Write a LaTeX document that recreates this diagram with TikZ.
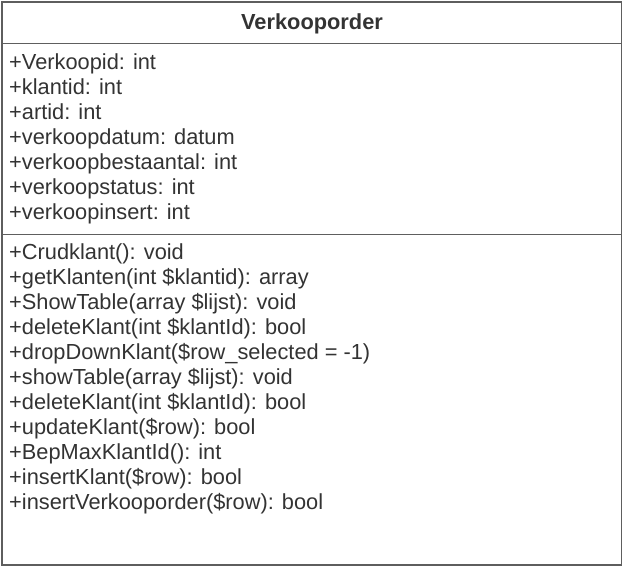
\documentclass[tikz,border=0pt]{standalone}
\usepackage{fontspec}
\setmainfont{Liberation Sans}
\usepackage{xcolor}
\definecolor{umlline}{HTML}{5E5E5E}
\definecolor{umltext}{HTML}{333333}
\tikzset{
	umlbox/.style={draw=umlline, line width=1.8pt},
	umltitle/.style={anchor=base, inner sep=0pt, text=umltext, font=\fontsize{21.8}{25}\selectfont\bfseries},
	umlmember/.style={anchor=base west, inner sep=0pt, text=umltext, font=\fontsize{21.8}{25}\selectfont}
}

\begin{document}
\begin{tikzpicture}[x=1pt,y=-1pt]
	\useasboundingbox (0,0) rectangle (623,569);
	
	% class box and compartments
	\draw[umlbox] (2,2) rectangle (621.5,565);
	\draw[umlbox] (2,43.5) -- (621.5,43.5);
	\draw[umlbox] (2,234.5) -- (621.5,234.5);
	
	\node[umltitle] (classname) at (312,30) {Verkooporder};
	
	% attributes
	\node[umlmember] (verkoopid) at (9,70) {+Verkoopid: int};
	\node[umlmember] (klantid) at (9,95) {+klantid: int};
	\node[umlmember] (artid) at (9,120) {+artid: int};
	\node[umlmember] (verkoopdatum) at (9,145) {+verkoopdatum: datum};
	\node[umlmember] (verkoopbestaantal) at (9,170) {+verkoopbestaantal: int};
	\node[umlmember] (verkoopstatus) at (9,195) {+verkoopstatus: int};
	\node[umlmember] (verkoopinsert) at (9,220) {+verkoopinsert: int};
	
	% methods
	\node[umlmember] (crudklant) at (9,259) {+Crudklant(): void};
	\node[umlmember] (getklanten) at (9,284) {+getKlanten(int \$klantid): array};
	\node[umlmember] (showtableA) at (9,309) {+ShowTable(array \$lijst): void};
	\node[umlmember] (deleteklantA) at (9,334) {+deleteKlant(int \$klantId): bool};
	\node[umlmember] (dropdownklant) at (9,359) {+dropDownKlant(\$row\_selected = -1)};
	\node[umlmember] (showtableB) at (9,384) {+showTable(array \$lijst): void};
	\node[umlmember] (deleteklantB) at (9,409) {+deleteKlant(int \$klantId): bool};
	\node[umlmember] (updateklant) at (9,434) {+updateKlant(\$row): bool};
	\node[umlmember] (bepmaxklantid) at (9,459) {+BepMaxKlantId(): int};
	\node[umlmember] (insertklant) at (9,484) {+insertKlant(\$row): bool};
	\node[umlmember] (insertverkooporder) at (9,509) {+insertVerkooporder(\$row): bool};
\end{tikzpicture}
\end{document}
